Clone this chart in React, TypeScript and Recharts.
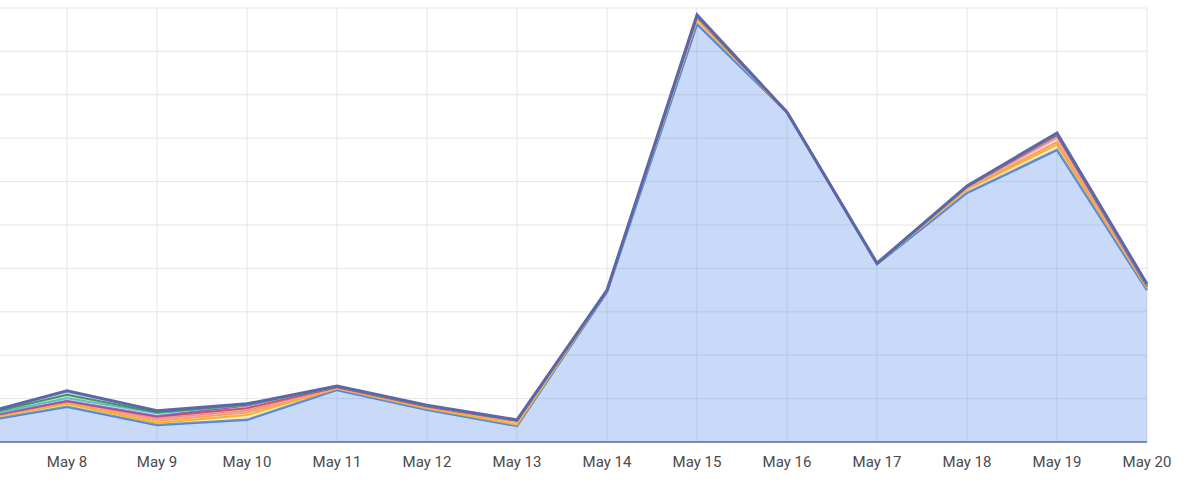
import { AreaChart, Area, XAxis, YAxis, CartesianGrid } from "recharts";

// Dates on the x axis (May 7 sits just left of the visible frame)
const days = ["May 7", "May 8", "May 9", "May 10", "May 11", "May 12", "May 13", "May 14", "May 15", "May 16", "May 17", "May 18", "May 19", "May 20"];

// Stacked series, bottom to top
const blue = [4.6, 8.1, 3.9, 5.1, 12.0, 7.4, 3.7, 34.6, 96.3, 76.0, 41.0, 57.4, 67.3, 35.0];
const yellow = [0.4, 0.7, 0.5, 1.1, 0.3, 0.4, 0.3, 0.2, 1.0, 0.0, 0.1, 0.8, 1.2, 0.4];
const orange = [0.2, 0.4, 0.5, 0.6, 0.1, 0.2, 0.6, 0.1, 0.4, 0.0, 0.0, 0.3, 0.6, 0.2];
const pink = [0.1, 0.1, 0.4, 0.4, 0.1, 0.1, 0.1, 0.0, 0.2, 0.0, 0.0, 0.1, 1.0, 0.1];
const red = [0.1, 0.1, 0.5, 0.6, 0.1, 0.1, 0.2, 0.0, 0.1, 0.0, 0.0, 0.2, 0.6, 0.1];
const purple = [0.1, 0.1, 0.2, 0.6, 0.2, 0.1, 0.1, 0.0, 0.1, 0.0, 0.0, 0.1, 0.2, 0.1];
const teal = [0.2, 0.6, 0.6, 0.1, 0.0, 0.1, 0.0, 0.0, 0.1, 0.0, 0.0, 0.0, 0.1, 0.1];
const green = [0.3, 0.8, 0.2, 0.1, 0.0, 0.0, 0.0, 0.0, 0.1, 0.0, 0.0, 0.0, 0.1, 0.3];
const indigo = [0.2, 0.9, 0.4, 0.2, 0.1, 0.1, 0.1, 0.1, 0.1, 0.0, 0.1, 0.1, 0.1, 0.1];

const yTicks = [0, 10, 20, 30, 40, 50, 60, 70, 80, 90, 100];

const series = [
  { key: "blue", color: "#4a86e8", width: 2.5 },
  { key: "yellow", color: "#f1b62c", width: 2 },
  { key: "orange", color: "#f6a35b", width: 2 },
  { key: "pink", color: "#f2a3a0", width: 2 },
  { key: "red", color: "#d9534f", width: 2 },
  { key: "purple", color: "#9c4fb8", width: 2 },
  { key: "teal", color: "#6cc5c9", width: 2 },
  { key: "green", color: "#3d9a62", width: 2 },
  { key: "indigo", color: "#5b67a8", width: 3 },
];

const data = days.map((day, i) => ({
  day,
  blue: blue[i],
  yellow: yellow[i],
  orange: orange[i],
  pink: pink[i],
  red: red[i],
  purple: purple[i],
  teal: teal[i],
  green: green[i],
  indigo: indigo[i],
}));

export default function App() {
  return (
    <div
      style={{
        position: "fixed",
        left: 0,
        top: 0,
        width: 1200,
        height: 491,
        overflow: "hidden",
        background: "#fff",
        fontFamily: "Roboto, sans-serif",
      }}
    >
      <div style={{ position: "absolute", left: -23, top: 0 }}>
        <AreaChart width={1223} height={491} data={data} margin={{ top: 8, right: 53, bottom: 19, left: 0 }}>
          <CartesianGrid stroke="#e5e5e5" strokeWidth={1} />
          <XAxis
            dataKey="day"
            height={30}
            tickLine={false}
            tickSize={6}
            tickMargin={8}
            interval={0}
            // first date is outside the cropped frame, so its label is not drawn
            tickFormatter={(v: string, i: number) => (i === 0 ? "" : v)}
            axisLine={{ stroke: "#5d6898", strokeWidth: 1.5 }}
            tick={{ fill: "#4a4a4a", fontSize: 15, fontFamily: "Roboto, sans-serif" }}
          />
          <YAxis hide domain={[0, 100]} ticks={yTicks} />
          {series.map((s) => (
            <Area
              key={s.key}
              type="linear"
              dataKey={s.key}
              stackId="all"
              stroke={s.color}
              strokeWidth={s.width}
              fill={s.color}
              fillOpacity={0.3}
              dot={false}
              activeDot={false}
              isAnimationActive={false}
            />
          ))}
        </AreaChart>
      </div>
    </div>
  );
}
